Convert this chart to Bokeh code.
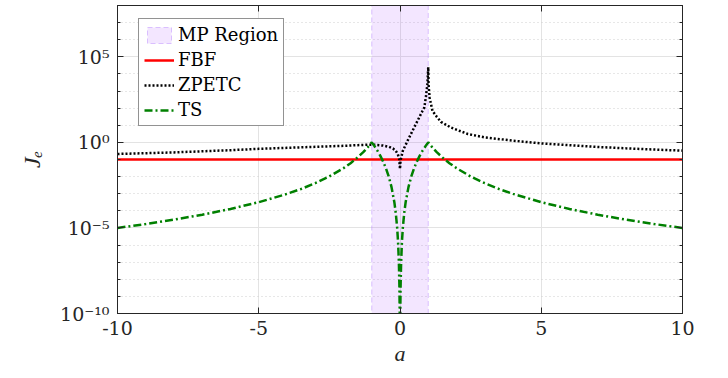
from bokeh.plotting import figure
from bokeh.models import (FixedTicker, LinearAxis, LogAxis, Range1d,
                          CustomJSTickFormatter)
from bokeh.embed import file_html
from bokeh.resources import INLINE

# ---------------- data ----------------
mp_region = [-1.0, 1.0]

a_fbf = [-10.0, 10.0]
j_fbf = [0.1, 0.1]

a_zpetc = [-10, -8, -6, -5, -4, -3, -2, -1.5, -1, -0.8, -0.6, -0.4, -0.25, -0.15,
           -0.08, -0.03, 0.0, 0.02, 0.1, 0.27, 0.45, 0.62, 0.8, 0.86, 0.92, 0.97,
           1.0, 1.01, 1.05, 1.15, 1.3, 1.45, 1.8, 2.4, 3.0, 4.0, 5.0, 6.0, 7.0,
           8.0, 9.0, 10.0]
j_zpetc = [0.21, 0.26, 0.35, 0.42, 0.48, 0.55, 0.63, 0.69, 0.74, 0.71, 0.65, 0.56,
           0.44, 0.32, 0.21, 0.11, 0.028, 0.087, 0.32, 1.26, 5.0, 18.2, 70.8, 107.0,
           500.0, 2510.0, 25000.0, 2510.0, 398.0, 69.0, 31.6, 15.8, 7.4, 3.1, 1.95,
           1.26, 0.87, 0.68, 0.54, 0.45, 0.38, 0.33]

a_ts = [-10, -9, -8, -7, -6, -5, -4, -3.5, -3, -2.5, -2, -1.75, -1.5, -1.3, -1.15,
        -1.0, -0.9, -0.8, -0.7, -0.6, -0.5, -0.4, -0.3, -0.2, -0.15, -0.1, -0.07,
        -0.04, -0.02, -0.01, 0.0,
        0.01, 0.02, 0.04, 0.07, 0.1, 0.15, 0.2, 0.3, 0.4, 0.5, 0.6, 0.7, 0.8, 0.9,
        1.0, 1.15, 1.3, 1.5, 1.75, 2, 2.5, 3, 3.5, 4, 5, 6, 7, 8, 9, 10]
j_ts = [1.0e-5, 1.69e-5, 3.05e-5, 5.95e-5, 1.29e-4, 3.2e-4, 9.77e-4, 1.9e-3, 4.12e-3,
        1.02e-2, 3.13e-2, 6.1e-2, 0.132, 0.269, 0.497,
        1.0, 0.59, 0.328, 0.168, 7.78e-2, 3.13e-2, 1.02e-2, 2.43e-3, 3.2e-4, 7.6e-5,
        1.0e-5, 1.68e-6, 1.02e-7, 3.2e-9, 1.0e-10, 1.0e-12,
        1.0e-10, 3.2e-9, 1.02e-7, 1.68e-6, 1.0e-5, 7.6e-5, 3.2e-4, 2.43e-3, 1.02e-2,
        3.13e-2, 7.78e-2, 0.168, 0.328, 0.59,
        1.0, 0.497, 0.269, 0.132, 6.1e-2, 3.13e-2, 1.02e-2, 4.12e-3, 1.9e-3, 9.77e-4,
        3.2e-4, 1.29e-4, 5.95e-5, 3.05e-5, 1.69e-5, 1.0e-5]

x_ticks = [-10, -5, 0, 5, 10]
x_tick_labels = ["-10", "-5", "0", "5", "10"]
y_ticks = [1e-10, 1e-5, 1e0, 1e5]
y_tick_labels = ["10\u207b\u00b9\u2070", "10\u207b\u2075", "10\u2070", "10\u2075"]
y_minor_ticks = [1e-10, 1e-9, 1e-8, 1e-7, 1e-6, 1e-5, 1e-4, 1e-3, 1e-2, 1e-1,
                 1e0, 1e1, 1e2, 1e3, 1e4, 1e5, 1e6, 1e7, 1e8]
y_minor_grid = [1e-9, 1e-8, 1e-7, 1e-6, 1e-4, 1e-3, 1e-2, 1e-1,
                1e1, 1e2, 1e3, 1e4, 1e6, 1e7]
x_label = "a"
y_label = "J\u2091"

# ---------------- layout ----------------
FONT = "DejaVu Serif"            # upright serif text
ITALIC_FONT = "Liberation Serif"  # italic axis titles
INK = "#262626"
W, H = 712, 370
BL, BR, BT, BB = 117, 30, 5, 57
Y0, Y1 = 1e-10, 1e8

p = figure(width=W, height=H, x_range=Range1d(-10, 10), y_range=Range1d(Y0, Y1),
           y_axis_type="log", output_backend="svg", toolbar_location=None,
           min_border_left=BL, min_border_right=BR, min_border_top=BT,
           min_border_bottom=BB)
p.background_fill_color = "white"
p.border_fill_color = "white"
p.outline_line_color = INK
p.outline_line_width = 1

empty = CustomJSTickFormatter(code="return ''")
xfmt = CustomJSTickFormatter(args=dict(tvals=x_ticks, tlabels=x_tick_labels), code="""
for (let i = 0; i < tvals.length; i++) {
  if (Math.abs(tvals[i] - tick) < 1e-9) { return tlabels[i] }
}
return ''
""")
yfmt = CustomJSTickFormatter(args=dict(tvals=y_ticks, tlabels=y_tick_labels), code="""
for (let i = 0; i < tvals.length; i++) {
  if (Math.abs(Math.log10(tvals[i]) - Math.log10(tick)) < 1e-6) { return tlabels[i] }
}
return ''
""")

# axes
p.xaxis.ticker = FixedTicker(ticks=x_ticks)
p.yaxis.ticker = FixedTicker(ticks=y_ticks, minor_ticks=y_minor_ticks)
for ax in p.xaxis:
    ax.formatter = xfmt
    ax.major_label_text_font = FONT
    ax.major_label_text_font_size = "19px"
    ax.major_label_text_color = INK
    ax.major_label_standoff = 7
    ax.major_tick_in = 6
    ax.major_tick_out = 0
    ax.minor_tick_line_color = None
    ax.major_tick_line_color = INK
    ax.axis_line_color = INK
    ax.axis_label = x_label
    ax.axis_label_text_font = ITALIC_FONT
    ax.axis_label_text_font_style = "italic"
    ax.axis_label_text_font_size = "22px"
    ax.axis_label_text_color = INK
    ax.axis_label_standoff = 3
for ax in p.yaxis:
    ax.formatter = yfmt
    ax.major_label_text_font = FONT
    ax.major_label_text_font_size = "19px"
    ax.major_label_text_color = INK
    ax.major_label_standoff = 8
    ax.major_tick_in = 6
    ax.major_tick_out = 0
    ax.minor_tick_in = 3
    ax.minor_tick_out = 0
    ax.major_tick_line_color = INK
    ax.minor_tick_line_color = INK
    ax.axis_line_color = INK
    ax.axis_label = y_label
    ax.axis_label_text_font = ITALIC_FONT
    ax.axis_label_text_font_style = "italic"
    ax.axis_label_text_font_size = "24px"
    ax.axis_label_text_color = INK
    ax.axis_label_standoff = 12

top_ax = LinearAxis(ticker=FixedTicker(ticks=x_ticks), formatter=empty,
                    major_tick_in=6, major_tick_out=0, minor_tick_line_color=None,
                    major_tick_line_color=INK, axis_line_color=INK,
                    major_label_standoff=0)
right_ax = LogAxis(ticker=FixedTicker(ticks=y_ticks, minor_ticks=y_minor_ticks),
                   formatter=empty, major_tick_in=6, major_tick_out=0,
                   minor_tick_in=3, minor_tick_out=0, major_tick_line_color=INK,
                   minor_tick_line_color=INK, axis_line_color=INK,
                   major_label_standoff=0)
p.add_layout(top_ax, "above")
p.add_layout(right_ax, "right")

# grids
p.xgrid.ticker = FixedTicker(ticks=x_ticks)
p.xgrid.grid_line_color = "#E3E3E3"
p.xgrid.grid_line_width = 1
p.ygrid.ticker = FixedTicker(ticks=y_ticks, minor_ticks=y_minor_grid)
p.ygrid.grid_line_color = "#E3E3E3"
p.ygrid.minor_grid_line_color = "#CFCFCF"
p.ygrid.minor_grid_line_dash = "1 3"

# ---------------- glyphs ----------------
p.quad(left=[mp_region[0]], right=[mp_region[1]], bottom=[Y0], top=[Y1],
       fill_color="#9933FF", fill_alpha=0.12, line_color="#B380FF",
       line_alpha=0.45, line_dash="5 3", line_width=1, legend_label="MP Region")
p.line(a_fbf, j_fbf, line_color="#FF0000", line_width=2.5, legend_label="FBF")
p.line(a_zpetc, j_zpetc, line_color="#000000", line_width=2.5, line_dash="2 2",
       legend_label="ZPETC")
p.line(a_ts, j_ts, line_color="#008000", line_width=2.5, line_dash="8 3 2 3",
       legend_label="TS")

lg = p.legend[0]
lg.location = (21, 313 - 126)
lg.label_text_font = FONT
lg.label_text_font_size = "18px"
lg.label_text_color = "#000000"
lg.label_height = 20
lg.glyph_width = 30
lg.glyph_height = 20
lg.label_standoff = 4
lg.padding = 5
lg.spacing = 4
lg.margin = 0
lg.border_line_color = INK
lg.border_line_width = 1
lg.background_fill_color = "white"
lg.background_fill_alpha = 1.0

open("out.html", "w").write(file_html(p, INLINE))
